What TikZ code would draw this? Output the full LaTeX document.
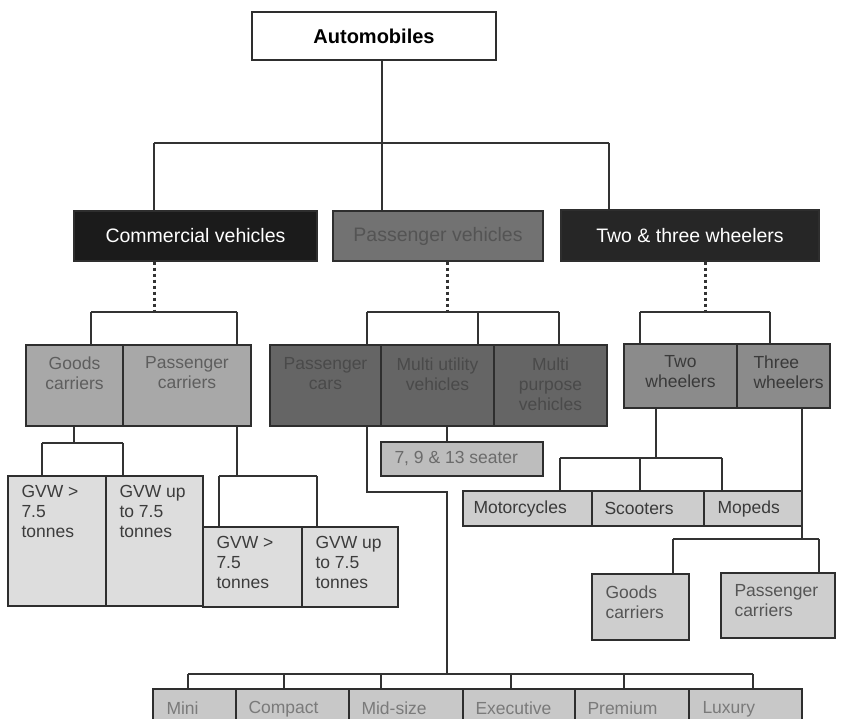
\documentclass[tikz,border=0pt]{standalone}
\usepackage{fontspec}
\setmainfont{Liberation Sans}
\usetikzlibrary{fit}
\definecolor{linec}{HTML}{333333}
\definecolor{boxc}{HTML}{2E2E2E}
\definecolor{cvf}{HTML}{1B1B1B}
\definecolor{pvf}{HTML}{727272}
\definecolor{pvt}{HTML}{545454}
\definecolor{twf}{HTML}{262626}
\definecolor{ccf}{HTML}{A8A8A8}
\definecolor{cct}{HTML}{5E5E5E}
\definecolor{pcf}{HTML}{656565}
\definecolor{pct}{HTML}{4A4A4A}
\definecolor{wwf}{HTML}{8B8B8B}
\definecolor{wwt}{HTML}{3A3A3A}
\definecolor{gvf}{HTML}{DDDDDD}
\definecolor{gvt}{HTML}{3C3C3C}
\definecolor{stf}{HTML}{BDBDBD}
\definecolor{stt}{HTML}{6B6B6B}
\definecolor{mcf}{HTML}{CDCDCD}
\definecolor{mct}{HTML}{3A3A3A}
\definecolor{gcf}{HTML}{CECECE}
\definecolor{gct}{HTML}{555555}
\definecolor{btf}{HTML}{C8C8C8}
\definecolor{btt}{HTML}{7A7A7A}
\begin{document}
\begin{tikzpicture}[x=1pt,y=-1pt,
  conn/.style={draw=linec, line width=1.2pt},
  dotline/.style={draw=linec, line width=3pt, dash pattern=on 3pt off 3pt},
  box/.style={draw=boxc, line width=1.4pt, inner sep=0pt},
  lbl/.style={inner sep=0pt, font=\fontsize{17.5}{20}\selectfont},
  hdr/.style={inner sep=0pt, font=\fontsize{19.5}{22}\selectfont},
]
\fill[white] (0,0) rectangle (844,719);
\clip (0,0) rectangle (844,719);

% ---- boxes ----
\node[box, fill=white, fit={(252,12) (496,60)}] (auto) {};
\node[inner sep=0pt, font=\fontsize{20}{24}\selectfont\bfseries] (auto-t) at (auto.center) {Automobiles};

\node[box, fill=cvf, fit={(74,211) (317,261)}] (cv) {};
\node[hdr, text=white] (cv-t) at (cv.center) {Commercial vehicles};
\node[box, fill=pvf, fit={(333,211) (543,261)}] (pv) {};
\node[hdr, text=pvt] (pv-t) at (pv.center) {Passenger vehicles};
\node[box, fill=twf, fit={(561,210) (819,261)}] (tw) {};
\node[hdr, text=white] (tw-t) at (tw.center) {Two \& three wheelers};

\node[box, fill=ccf, fit={(26,345) (123,426)}] (gc) {};
\node[lbl, text=cct, align=center, anchor=north] (gc-t) at ([yshift=-12pt]gc.north) {Goods\\carriers};
\node[box, fill=ccf, fit={(123,345) (251,426)}] (pc) {};
\node[lbl, text=cct, align=center, anchor=north] (pc-t) at ([yshift=-12pt]pc.north) {Passenger\\carriers};

\node[box, fill=pcf, fit={(270,345) (381,426)}] (cars) {};
\node[lbl, text=pct, align=center, anchor=north] (cars-t) at ([yshift=-13pt]cars.north) {Passenger\\cars};
\node[box, fill=pcf, fit={(381,345) (494,426)}] (muv) {};
\node[lbl, text=pct, align=center, anchor=north] (muv-t) at ([yshift=-13pt]muv.north) {Multi utility\\vehicles};
\node[box, fill=pcf, fit={(494,345) (607,426)}] (mpv) {};
\node[lbl, text=pct, align=center, anchor=north] (mpv-t) at ([yshift=-13pt]mpv.north) {Multi\\purpose\\vehicles};

\node[box, fill=wwf, fit={(624,344) (737,408)}] (twh) {};
\node[lbl, text=wwt, align=center, anchor=north] (twh-t) at ([yshift=-12pt]twh.north) {Two\\wheelers};
\node[box, fill=wwf, fit={(737,344) (830,408)}] (thw) {};
\node[lbl, text=wwt, align=left, anchor=north west] (thw-t) at ([xshift=17pt,yshift=-12pt]thw.north west) {Three\\wheelers};

\node[box, fill=gvf, fit={(8,476) (106,606)}] (g1) {};
\node[lbl, text=gvt, align=left, anchor=north west] (g1-t) at ([xshift=14pt,yshift=-10pt]g1.north west) {GVW >\\7.5\\tonnes};
\node[box, fill=gvf, fit={(106,476) (203,606)}] (g2) {};
\node[lbl, text=gvt, align=left, anchor=north west] (g2-t) at ([xshift=14pt,yshift=-10pt]g2.north west) {GVW up\\to 7.5\\tonnes};
\node[box, fill=gvf, fit={(203,527) (302,607)}] (g3) {};
\node[lbl, text=gvt, align=left, anchor=north west] (g3-t) at ([xshift=14pt,yshift=-10pt]g3.north west) {GVW >\\7.5\\tonnes};
\node[box, fill=gvf, fit={(302,527) (398,607)}] (g4) {};
\node[lbl, text=gvt, align=left, anchor=north west] (g4-t) at ([xshift=14pt,yshift=-10pt]g4.north west) {GVW up\\to 7.5\\tonnes};

\node[box, fill=stf, fit={(381,442) (543,476)}] (seat) {};
\node[lbl, text=stt, anchor=west] (seat-t) at ([xshift=14pt]seat.west) {7, 9 \& 13 seater};

\node[box, fill=mcf, fit={(463,491) (592,526)}] (mc) {};
\node[lbl, text=mct, anchor=west] (mc-t) at ([xshift=11pt]mc.west) {Motorcycles};
\node[box, fill=mcf, fit={(592,491) (704,526)}] (sc) {};
\node[lbl, text=mct, anchor=west] (sc-t) at ([xshift=13pt]sc.west) {Scooters};
\node[box, fill=mcf, fit={(704,491) (802,526)}] (mp) {};
\node[lbl, text=mct, anchor=west] (mp-t) at ([xshift=14pt]mp.west) {Mopeds};

\node[box, fill=gcf, fit={(592,574) (689,640)}] (gc2) {};
\node[lbl, text=gct, align=left, anchor=north west] (gc2-t) at ([xshift=14pt,yshift=-12pt]gc2.north west) {Goods\\carriers};
\node[box, fill=gcf, fit={(721,573) (835,638)}] (pc2) {};
\node[lbl, text=gct, align=left, anchor=north west] (pc2-t) at ([xshift=14pt,yshift=-12pt]pc2.north west) {Passenger\\carriers};

\node[box, fill=btf, fit={(153,689) (236,740)}] (mini) {};
\node[lbl, text=btt, anchor=north west] (mini-t) at ([xshift=14pt,yshift=-13pt]mini.north west) {Mini};
\node[box, fill=btf, fit={(236,689) (349,740)}] (comp) {};
\node[lbl, text=btt, anchor=north west] (comp-t) at ([xshift=13pt,yshift=-13pt]comp.north west) {Compact};
\node[box, fill=btf, fit={(349,689) (463,740)}] (mid) {};
\node[lbl, text=btt, anchor=north west] (mid-t) at ([xshift=13pt,yshift=-13pt]mid.north west) {Mid-size};
\node[box, fill=btf, fit={(463,689) (575,740)}] (exec) {};
\node[lbl, text=btt, anchor=north west] (exec-t) at ([xshift=13pt,yshift=-13pt]exec.north west) {Executive};
\node[box, fill=btf, fit={(575,689) (689,740)}] (prem) {};
\node[lbl, text=btt, anchor=north west] (prem-t) at ([xshift=13pt,yshift=-13pt]prem.north west) {Premium};
\node[box, fill=btf, fit={(689,689) (802,740)}] (lux) {};
\node[lbl, text=btt, anchor=north west] (lux-t) at ([xshift=14pt,yshift=-13pt]lux.north west) {Luxury};

% ---- connectors ----
\coordinate (jA) at (382,143); \coordinate (jAl) at (154,143); \coordinate (jAr) at (609,143);
\draw[conn] (jA |- auto.south) -- (jA);
\draw[conn] (jAl) -- (jAr);
\draw[conn] (jAl) -- (jAl |- cv.north);
\draw[conn] (jA) -- (jA |- pv.north);
\draw[conn] (jAr) -- (jAr |- tw.north);

\coordinate (jB) at (154,312); \coordinate (jBl) at (91,312); \coordinate (jBr) at (237,312);
\draw[dotline] (jB |- cv.south) -- (jB);
\draw[conn] (jBl) -- (jBr);
\draw[conn] (jBl) -- (jBl |- gc.north);
\draw[conn] (jBr) -- (jBr |- pc.north);

\coordinate (jC) at (447,312); \coordinate (jCl) at (367,312); \coordinate (jCm) at (478,312); \coordinate (jCr) at (559,312);
\draw[dotline] (jC |- pv.south) -- (jC);
\draw[conn] (jCl) -- (jCr);
\draw[conn] (jCl) -- (jCl |- cars.north);
\draw[conn] (jCm) -- (jCm |- muv.north);
\draw[conn] (jCr) -- (jCr |- mpv.north);

\coordinate (jD) at (705,312); \coordinate (jDl) at (640,312); \coordinate (jDr) at (770,312);
\draw[dotline] (jD |- tw.south) -- (jD);
\draw[conn] (jDl) -- (jDr);
\draw[conn] (jDl) -- (jDl |- twh.north);
\draw[conn] (jDr) -- (jDr |- thw.north);

\coordinate (jE) at (74,443); \coordinate (jEl) at (42,443); \coordinate (jEr) at (123,443);
\draw[conn] (jE |- gc.south) -- (jE);
\draw[conn] (jEl) -- (jEr);
\draw[conn] (jEl) -- (jEl |- g1.north);
\draw[conn] (jEr) -- (jEr |- g2.north);

\coordinate (jF) at (237,476); \coordinate (jFl) at (219,476); \coordinate (jFr) at (317,476);
\draw[conn] (jF |- pc.south) -- (jF);
\draw[conn] (jFl) -- (jFr);
\draw[conn] (jFl) -- (jFl |- g3.north);
\draw[conn] (jFr) -- (jFr |- g4.north);

\coordinate (jG1) at (367,492); \coordinate (jG2) at (447,492); \coordinate (jH) at (447,674);
\draw[conn] (jG1 |- cars.south) -- (jG1) -- (jG2) -- (jH);
\draw[conn] (jG2 |- muv.south) -- (jG2 |- seat.north);

\coordinate (jH1) at (188,674); \coordinate (jH2) at (284,674); \coordinate (jH3) at (381,674);
\coordinate (jH4) at (511,674); \coordinate (jH5) at (624,674); \coordinate (jH6) at (753,674);
\draw[conn] (jH1) -- (jH6);
\draw[conn] (jH1) -- (jH1 |- mini.north);
\draw[conn] (jH2) -- (jH2 |- comp.north);
\draw[conn] (jH3) -- (jH3 |- mid.north);
\draw[conn] (jH4) -- (jH4 |- exec.north);
\draw[conn] (jH5) -- (jH5 |- prem.north);
\draw[conn] (jH6) -- (jH6 |- lux.north);

\coordinate (jI) at (656,458); \coordinate (jIl) at (560,458); \coordinate (jIm) at (640,458); \coordinate (jIr) at (722,458);
\draw[conn] (jI |- twh.south) -- (jI);
\draw[conn] (jIl) -- (jIr);
\draw[conn] (jIl) -- (jIl |- mc.north);
\draw[conn] (jIm) -- (jIm |- sc.north);
\draw[conn] (jIr) -- (jIr |- mp.north);

\coordinate (jJ) at (802,539); \coordinate (jJl) at (673,539); \coordinate (jJr) at (819,539);
\draw[conn] (jJ |- thw.south) -- (jJ);
\draw[conn] (jJl) -- (jJr);
\draw[conn] (jJl) -- (jJl |- gc2.north);
\draw[conn] (jJr) -- (jJr |- pc2.north);
\end{tikzpicture}
\end{document}
